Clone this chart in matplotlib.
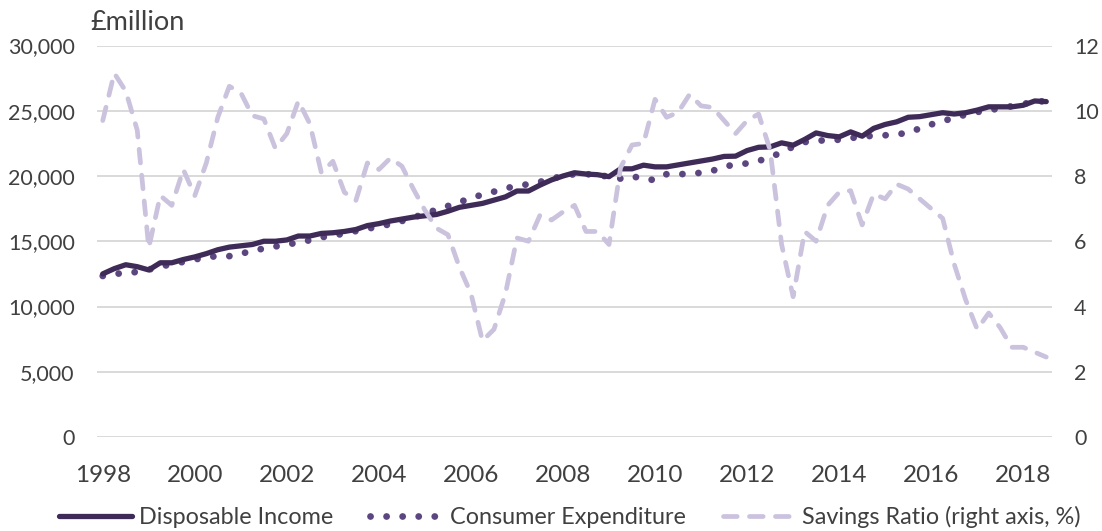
import matplotlib
matplotlib.use("Agg")
import matplotlib.pyplot as plt
import numpy as np

# Quarterly data, 1998 Q1 to 2018 Q3
years = [1998, 2000, 2002, 2004, 2006, 2008, 2010, 2012, 2014, 2016, 2018]

disposable_income = [
    12500, 12900, 13200, 13050, 12800, 13350, 13350, 13600, 13800, 14050,
    14350, 14550, 14650, 14750, 15000, 15000, 15100, 15400, 15400, 15600,
    15650, 15750, 15900, 16200, 16350, 16550, 16700, 16850, 16950, 17050,
    17300, 17600, 17750, 17900, 18150, 18400, 18850, 18850, 19300, 19700,
    20000, 20250, 20150, 20100, 19950, 20550, 20550, 20830, 20700, 20700,
    20850, 21000, 21150, 21300, 21500, 21520, 21950, 22200, 22230, 22540,
    22360, 22800, 23300, 23100, 23000, 23380, 23050, 23650, 23950, 24150,
    24500, 24550, 24700, 24850, 24750, 24850, 25050, 25300, 25300, 25300,
    25420, 25750, 25700,
]

consumer_expenditure = [
    12340, 12500, 12560, 12650, 12830, 13050, 13250, 13420, 13600, 13780,
    13860, 13860, 14050, 14250, 14450, 14600, 14750, 14900, 15080, 15300,
    15450, 15580, 15780, 15950, 16150, 16300, 16550, 16800, 17150, 17400,
    17700, 18000, 18300, 18580, 18800, 19050, 19250, 19370, 19550, 19800,
    20000, 20140, 20140, 20100, 19930, 19800, 20000, 19750, 19700, 20140,
    20140, 20160, 20250, 20400, 20700, 20900, 20960, 21150, 21450, 21800,
    22250, 22600, 22700, 22740, 22780, 22900, 23030, 23080, 23120, 23200,
    23300, 23650, 23950, 24200, 24460, 24700, 24900, 25050, 25180, 25350,
    25500, 25760, 25690,
]

savings_ratio = [
    9.7, 11.15, 10.6, 9.4, 5.8, 7.4, 7.1, 8.2, 7.4, 8.4,
    9.8, 10.75, 10.55, 9.85, 9.75, 8.85, 9.3, 10.3, 9.6, 8.1,
    8.45, 7.5, 7.25, 8.4, 8.2, 8.55, 8.3, 7.6, 6.95, 6.4,
    6.2, 5.2, 4.4, 2.95, 3.3, 4.4, 6.1, 6.0, 6.8, 6.65,
    6.9, 7.1, 6.3, 6.3, 5.9, 8.25, 8.95, 9.0, 10.35, 9.8,
    9.95, 10.5, 10.15, 10.1, 9.7, 9.3, 9.7, 9.9, 8.8, 5.9,
    4.3, 6.3, 6.0, 7.1, 7.5, 7.55, 6.5, 7.45, 7.3, 7.75,
    7.6, 7.3, 7.0, 6.7, 5.3, 4.2, 3.3, 3.8, 3.35, 2.75,
    2.75, 2.6, 2.45,
]

FONT = "Lato"
TXT = "#404040"
C_DI = "#3e2b57"
C_CE = "#5c4680"
C_SR = "#cbc2de"
GRID = "#d9d9d9"

plt.rcParams["font.family"] = [FONT, "DejaVu Sans"]

fig = plt.figure(figsize=(11.02, 5.31), dpi=100)
ax = fig.add_axes([97 / 1102, 1 - 437 / 531, (1052 - 97) / 1102, (437 - 45.5) / 531])
ax2 = ax.twinx()

x = np.arange(len(disposable_income))

l1, = ax.plot(x, disposable_income, color=C_DI, lw=3.8, solid_capstyle="round",
              solid_joinstyle="round", label="Disposable Income", zorder=3)
l2, = ax.plot(x, consumer_expenditure, color=C_CE, lw=4.9,
              linestyle=(0, (0.01, 2.35)), dash_capstyle="round",
              label="Consumer Expenditure", zorder=2)
l3, = ax2.plot(x, savings_ratio, color=C_SR, lw=3.4,
               linestyle=(0, (2.9, 2.6)), dash_capstyle="round",
               label="Savings Ratio (right axis, %)", zorder=2)

ax.set_xlim(-0.5, len(x) - 0.5)
ax.set_ylim(0, 30000)
ax2.set_ylim(0, 12)

ax.set_yticks(np.arange(0, 30001, 5000))
ax.set_yticklabels([f"{v:,}" for v in range(0, 30001, 5000)])
ax2.set_yticks(np.arange(0, 13, 2))
ax2.set_yticklabels([str(v) for v in range(0, 13, 2)])

ax.set_xticks([8 * k for k in range(len(years))])
ax.set_xticklabels([str(y) for y in years])

ax.grid(axis="y", color=GRID, lw=1.4)
ax.set_axisbelow(True)
for a in (ax, ax2):
    for s in a.spines.values():
        s.set_visible(False)

ax.tick_params(axis="y", length=0, pad=16, labelsize=15.5, labelcolor=TXT)
ax.tick_params(axis="x", length=0, pad=20, labelsize=17.5, labelcolor=TXT)
ax2.tick_params(axis="y", length=0, pad=16, labelsize=15.5, labelcolor=TXT)

fig.text(90 / 1102, 1 - 22 / 531, "£million", fontsize=19.5, color=TXT,
         ha="left", va="center")

leg = fig.legend(handles=[l1, l2, l3], loc="center", ncol=3,
                 bbox_to_anchor=(570 / 1102, 1 - 517 / 531), frameon=False,
                 fontsize=16.8, handlelength=3.1, handletextpad=0.3,
                 columnspacing=1.6, borderaxespad=0, borderpad=0)
for t in leg.get_texts():
    t.set_color(TXT)

fig.savefig("out.png", dpi=100)
